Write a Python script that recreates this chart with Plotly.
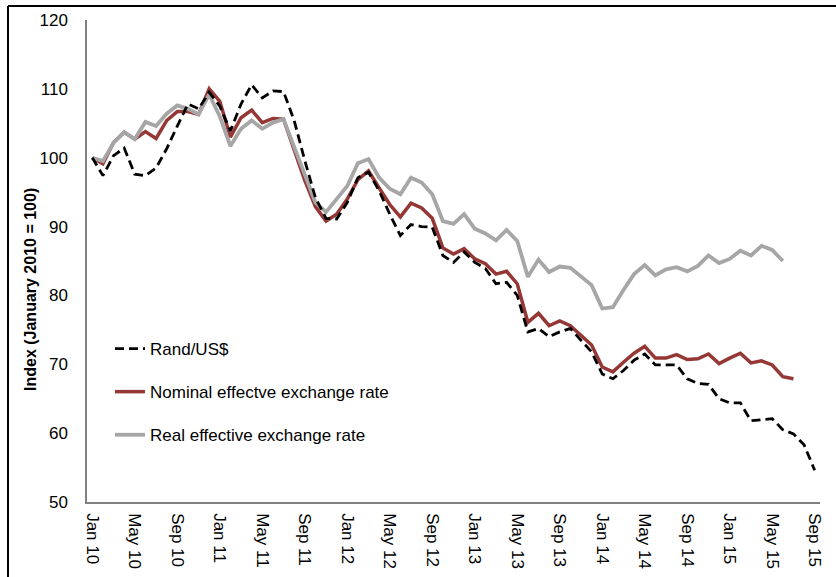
import plotly.graph_objects as go

# Monthly index values, January 2010 = 100 (Jan 10 .. Sep 15)
month_abbr = ["Jan", "Feb", "Mar", "Apr", "May", "Jun",
              "Jul", "Aug", "Sep", "Oct", "Nov", "Dec"]
years = ["10", "11", "12", "13", "14", "15"]
months = [f"{m} {y}" for y in years for m in month_abbr][:69]

rand_usd = [100.0, 97.4, 100.3, 101.4, 97.6, 97.4, 98.5, 101.3, 104.6, 107.8,
            107.1, 109.5, 107.5, 103.9, 107.8, 110.6, 108.7, 109.7, 109.6, 105.4,
            99.6, 94.2, 91.2, 91.1, 93.5, 97.1, 97.9, 95.2, 91.8, 88.7,
            90.3, 90.0, 89.9, 85.8, 84.8, 86.3, 84.8, 83.9, 81.7, 81.9,
            80.0, 74.7, 75.2, 74.0, 74.7, 75.2, 73.5, 71.8, 68.6, 67.9,
            69.1, 70.6, 71.5, 69.9, 69.9, 69.9, 67.9, 67.2, 67.1, 65.0,
            64.4, 64.4, 61.8, 62.0, 62.1, 60.5, 59.9, 58.3, 54.6]

neer = [100.0, 99.1, 102.2, 103.7, 102.7, 103.8, 102.8, 105.4, 106.7, 106.7,
        106.3, 110.0, 108.2, 103.0, 105.8, 106.9, 105.1, 105.7, 105.6, 101.0,
        96.7, 92.9, 90.8, 91.8, 94.0, 96.8, 98.1, 95.6, 93.2, 91.4,
        93.4, 92.7, 91.2, 86.9, 86.0, 86.8, 85.3, 84.6, 83.1, 83.5,
        81.7, 76.1, 77.4, 75.6, 76.3, 75.6, 74.2, 72.8, 69.6, 68.9,
        70.3, 71.6, 72.6, 70.9, 70.9, 71.4, 70.7, 70.8, 71.5, 70.1,
        70.9, 71.6, 70.2, 70.5, 69.9, 68.2, 67.9, None, None]

reer = [100.0, 99.5, 102.2, 103.7, 102.7, 105.2, 104.6, 106.4, 107.6, 107.1,
        106.3, 109.2, 106.0, 101.7, 104.2, 105.4, 104.2, 105.1, 105.6, 101.5,
        97.3, 93.5, 92.1, 94.0, 95.9, 99.2, 99.8, 97.1, 95.5, 94.7,
        97.1, 96.4, 94.7, 90.8, 90.4, 91.8, 89.7, 89.0, 88.0, 89.5,
        87.9, 82.7, 85.2, 83.4, 84.2, 84.0, 82.8, 81.5, 78.1, 78.3,
        80.8, 83.1, 84.4, 82.9, 83.8, 84.1, 83.5, 84.3, 85.8, 84.7,
        85.3, 86.5, 85.8, 87.2, 86.6, 85.0, None, None, None]

tick_labels = months[::4]
y_title = "Index (January 2010 = 100)"

fig = go.Figure()
fig.add_trace(go.Scatter(
    x=months, y=neer, mode="lines", name="Nominal effectve exchange rate",
    line=dict(color="#953735", width=3.5), legendgroup="b", legendrank=2))
fig.add_trace(go.Scatter(
    x=months, y=reer, mode="lines", name="Real effective exchange rate",
    line=dict(color="#A6A6A6", width=3.8), legendgroup="c", legendrank=3))
fig.add_trace(go.Scatter(
    x=months, y=rand_usd, mode="lines", name="Rand/US$",
    line=dict(color="#000000", width=2.8, dash="9px,5px"),
    legendgroup="a", legendrank=1))

L, R, T, B = 87, 16, 20, 75
W, H = 836, 577
pw, ph = W - L - R, H - T - B

def px_x(x):
    return (x - L) / pw

def px_y(y):
    return (H - B - y) / ph

# outer frame (top and left edges)
frame = dict(type="line", xref="paper", yref="paper",
             line=dict(color="#000000", width=2))
fig.add_shape(**frame, x0=px_x(8), x1=px_x(900), y0=px_y(6), y1=px_y(6))
fig.add_shape(**frame, x0=px_x(8), x1=px_x(8), y0=px_y(6), y1=px_y(640))

# vertical axis title
fig.add_annotation(
    text=f"<b>{y_title}</b>", textangle=-90, showarrow=False,
    xref="paper", yref="paper", x=px_x(30), y=px_y(290),
    xanchor="center", yanchor="middle",
    font=dict(family="Liberation Sans, Arial", size=16, color="#000"))

fig.update_layout(
    width=W, height=H,
    margin=dict(l=L, r=R, t=T, b=B),
    paper_bgcolor="white", plot_bgcolor="white",
    showlegend=True,
    legend=dict(x=px_x(110), y=px_y(331), xanchor="left", yanchor="top",
                font=dict(family="Liberation Sans, Arial", size=17, color="#000"),
                tracegroupgap=18, traceorder="grouped",
                bgcolor="rgba(0,0,0,0)"),
    font=dict(family="Liberation Sans, Arial", color="#000"),
)
fig.update_xaxes(
    type="category", range=[-0.5, 68.5], automargin=False,
    tickmode="array", tickvals=tick_labels, ticktext=tick_labels,
    tickangle=90, tickfont=dict(family="Liberation Sans, Arial", size=17),
    showline=True, linecolor="#808080", linewidth=1.5,
    showgrid=False, ticks="", zeroline=False, ticklabelstandoff=6)
fig.update_yaxes(
    range=[50, 120], dtick=10, automargin=False,
    tickfont=dict(family="Liberation Sans, Arial", size=17),
    showline=True, linecolor="#808080", linewidth=1.5,
    showgrid=False, ticks="", zeroline=False, ticklabelstandoff=14)

fig.write_html("out.html")
